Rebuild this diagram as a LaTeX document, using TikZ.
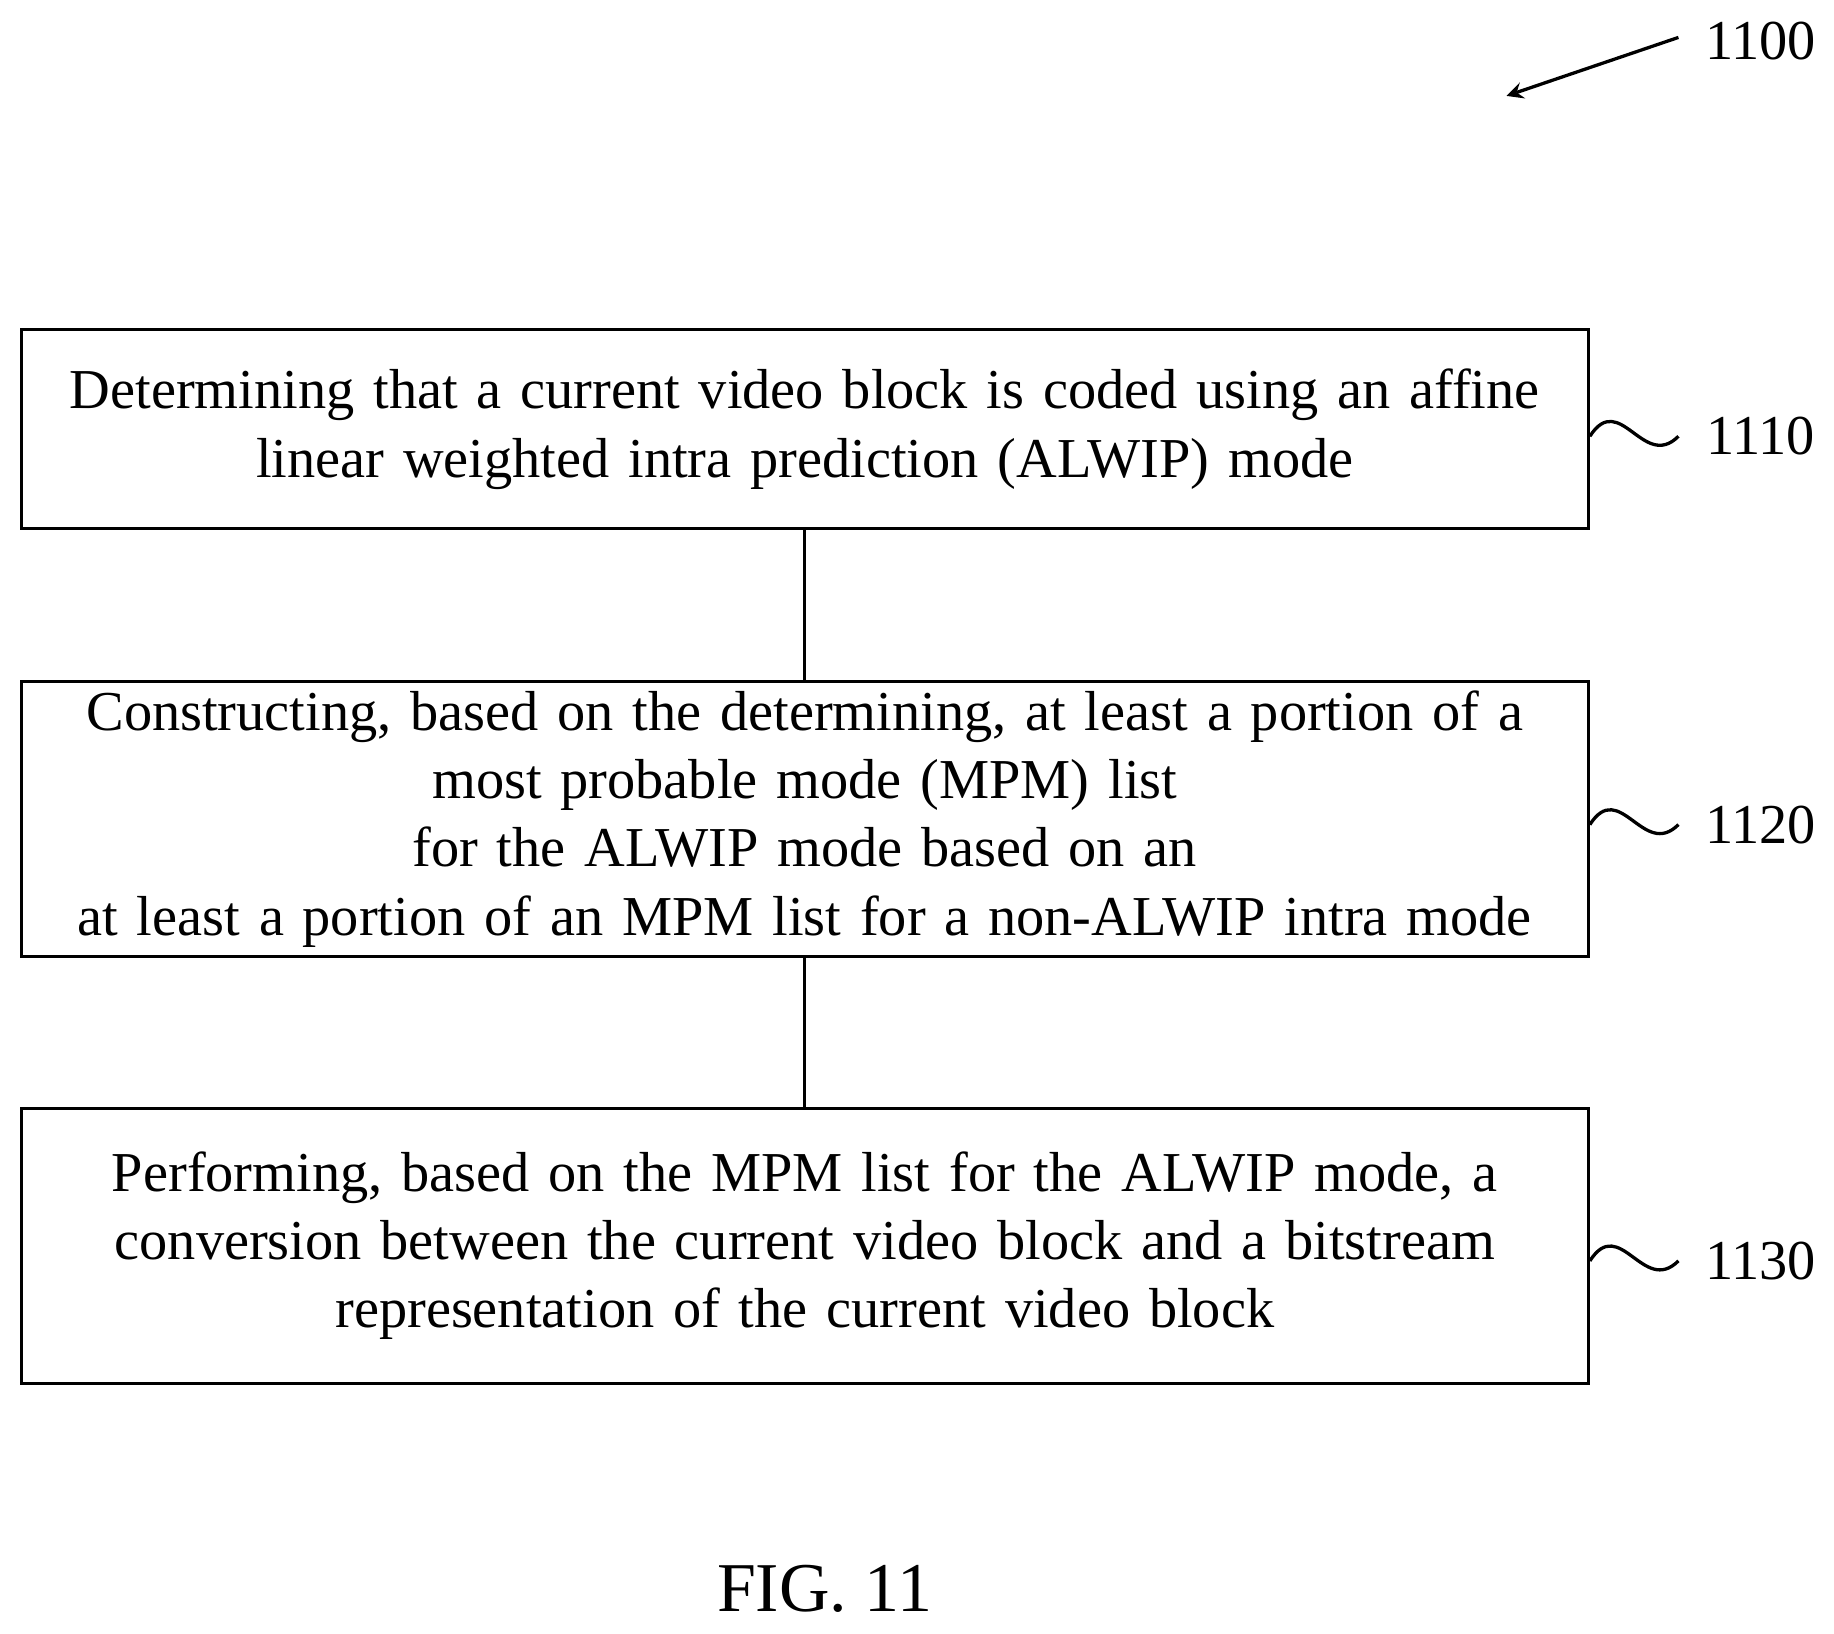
\documentclass[tikz,border=0pt]{standalone}
\usepackage{fontspec}
\setmainfont{Liberation Serif}
\usetikzlibrary{positioning}
\tikzset{
    block/.style={rectangle, draw, thick, text width=13.2cm, minimum width=13.39cm, align=center,
        inner sep=0pt, font=\fontsize{13.7pt}{16.6pt}\selectfont},
    link/.style={thick},
    tag/.style={font=\fontsize{13.7pt}{16pt}\selectfont},
    wave/.style={thick}
}
\begin{document}
\begin{tikzpicture}[x=0.01cm, y=-0.01cm]
    \useasboundingbox (0,0) rectangle (1568,1397);

    % Steps
    \node[block, minimum height=1.70cm] (s1) at (688,367) {Determining that a current video block is coded using an affine\\linear weighted intra prediction (ALWIP) mode};
    \node[block, minimum height=2.35cm] (s2) at (688,700) {Constructing, based on the determining, at least a portion of a\\most probable mode (MPM) list for the ALWIP mode based on an\\at least a portion of an MPM list for a non-ALWIP intra mode};
    \node[block, minimum height=2.35cm] (s3) at (688,1065) {Performing, based on the MPM list for the ALWIP mode, a\\conversion between the current video block and a bitstream\\representation of the current video block};

    % Connections
    \draw[link] (s1) -- (s2);
    \draw[link] (s2) -- (s3);

    % Reference numerals
    \foreach \n/\s/\y in {1110/s1/373, 1120/s2/705, 1130/s3/1078} {
        \node[tag] (t\n) at (1505,\y) {\n};
        \draw[wave] (\s.east |- 0,\y) .. controls (1385,\y-40) and (1405,\y+30) .. (1435,\y);
    }
    \node[tag] (t1100) at (1505,35) {1100};
    \coordinate (b1100) at (1435,32);
    \coordinate (a1100) at (1288,82);
    \draw[thick, ->, >=stealth] (b1100) -- (a1100);

    \node[font=\fontsize{17pt}{20pt}\selectfont] (fig) at (705,1358) {FIG. 11};
\end{tikzpicture}
\end{document}
